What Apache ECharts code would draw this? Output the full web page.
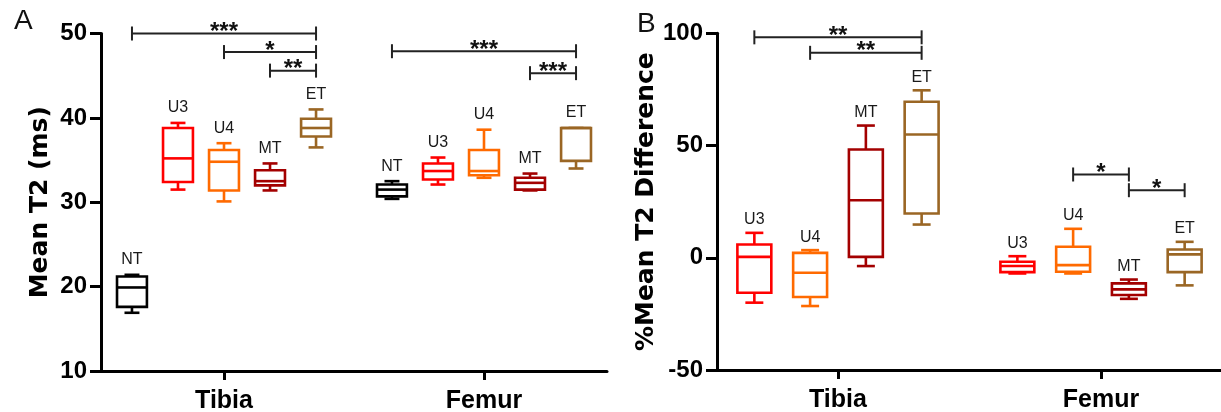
<!DOCTYPE html>
<html><head><meta charset="utf-8">
<script src="https://cdn.jsdelivr.net/npm/echarts@6/dist/echarts.min.js"></script>
<style>html,body{margin:0;padding:0;background:#fff}#chart{width:1221px;height:412px}</style>
</head><body><div id="chart"></div>
<script>
// ---------------- data ----------------
const sites = ['Tibia', 'Femur'];
const groupsA = ['NT', 'U3', 'U4', 'MT', 'ET'];
const groupsB = ['U3', 'U4', 'MT', 'ET'];
// Panel A, Mean T2 (ms): five-number summaries [min, Q1, median, Q3, max] for [Tibia, Femur]
const t2NT = [[16.9, 17.6, 19.9, 21.2, 21.4], [30.4, 30.7, 31.5, 32.1, 32.5]];
const t2U3 = [[31.5, 32.4, 35.2, 38.8, 39.4], [32.1, 32.7, 33.7, 34.6, 35.3]];
const t2U4 = [[30.1, 31.4, 34.8, 36.2, 37.0], [32.9, 33.2, 33.7, 36.2, 38.6]];
const t2MT = [[31.4, 32.0, 32.5, 33.8, 34.6], [31.4, 31.5, 32.3, 32.9, 33.4]];
const t2ET = [[36.5, 37.8, 38.8, 39.9, 41.0], [34.0, 34.9, 38.8, 38.8, 38.8]];
// Panel B, %Mean T2 Difference
const diffU3 = [[-20.0, -15.6, 0.4, 5.9, 11.1], [-7.0, -6.4, -3.7, -1.8, 0.7]];
const diffU4 = [[-21.5, -17.5, -6.7, 2.2, 3.4], [-7.0, -6.2, -3.3, 4.9, 12.9]];
const diffMT = [[-3.7, 0.4, 25.6, 48.2, 58.9], [-18.3, -16.6, -14.1, -11.4, -9.7]];
const diffET = [[14.8, 19.7, 54.9, 69.5, 74.6], [-12.3, -6.4, 1.5, 3.7, 7.1]];
// axis ticks
const ticksA = [10, 20, 30, 40, 50];
const ticksB = [-50, 0, 50, 100];
// significance brackets: [site, fromGroup, toGroup, y, stars]
const sigA = [[0, 'NT', 'ET', 50.0, '***'], [0, 'U4', 'ET', 47.8, '*'], [0, 'MT', 'ET', 45.6, '**'],
              [1, 'NT', 'ET', 47.9, '***'], [1, 'MT', 'ET', 45.3, '***']];
const sigB = [[0, 'U3', 'ET', 98.2, '**'], [0, 'U4', 'ET', 91.3, '**'],
              [1, 'U4', 'MT', 37.1, '*'], [1, 'MT', 'ET', 30.1, '*']];
const titleA = 'Mean T2 (ms)';
const titleB = '%Mean T2 Difference';

// ---------------- styles / layout ----------------
const colors = { NT: '#000000', U3: '#ff0000', U4: '#ff6a00', MT: '#a30000', ET: '#9a6624' };
const LA = { slot: 0.177, boxW: 0.115, cap: 0.5, gap: 15, min: -0.4731, max: 1.4731 };
const LB = { slot: 0.212, boxW: 0.129, cap: 0.53, gap: 13, min: -0.46, max: 1.46 };
const FONT = '"Liberation Sans", Arial, sans-serif';

function boxRender(groups, L, color, name) {
  const c = (groups.length - 1) / 2;
  return function (params, api) {
    const xv = api.value(0) + (api.value(1) - c) * L.slot;
    const lo = api.coord([xv, api.value(2)]);
    const q1 = api.coord([xv, api.value(3)]);
    const md = api.coord([xv, api.value(4)]);
    const q3 = api.coord([xv, api.value(5)]);
    const hi = api.coord([xv, api.value(6)]);
    const hw = api.size([L.boxW, 0])[0] / 2;
    const cw = hw * L.cap;
    const x = md[0];
    const st = { stroke: color, lineWidth: 2.6, fill: 'none' };
    const top = Math.min(hi[1], q3[1]);
    return {
      type: 'group',
      children: [
        { type: 'line', shape: { x1: x, y1: q3[1], x2: x, y2: hi[1] }, style: st },
        { type: 'line', shape: { x1: x - cw, y1: hi[1], x2: x + cw, y2: hi[1] }, style: st },
        { type: 'line', shape: { x1: x, y1: q1[1], x2: x, y2: lo[1] }, style: st },
        { type: 'line', shape: { x1: x - cw, y1: lo[1], x2: x + cw, y2: lo[1] }, style: st },
        { type: 'rect', shape: { x: x - hw, y: q3[1], width: 2 * hw, height: q1[1] - q3[1] },
          style: { stroke: color, lineWidth: 2.6, fill: '#ffffff' } },
        { type: 'line', shape: { x1: x - hw, y1: md[1], x2: x + hw, y2: md[1] }, style: st },
        { type: 'text', x: x, y: top - L.gap,
          style: { text: name, font: '16px ' + FONT, fill: '#1a1a1a', align: 'center', verticalAlign: 'middle' } }
      ]
    };
  };
}

function sigRender(groups, L, sig) {
  const c = (groups.length - 1) / 2;
  return function (params, api) {
    const s = sig[params.dataIndex];
    const a = api.coord([s[0] + (groups.indexOf(s[1]) - c) * L.slot, s[3]]);
    const b = api.coord([s[0] + (groups.indexOf(s[2]) - c) * L.slot, s[3]]);
    const st = { stroke: '#222', lineWidth: 2, fill: 'none' };
    return {
      type: 'group',
      children: [
        { type: 'line', shape: { x1: a[0], y1: a[1], x2: b[0], y2: b[1] }, style: st },
        { type: 'line', shape: { x1: a[0], y1: a[1] - 7, x2: a[0], y2: a[1] + 7 }, style: st },
        { type: 'line', shape: { x1: b[0], y1: b[1] - 7, x2: b[0], y2: b[1] + 7 }, style: st },
        { type: 'text', x: (a[0] + b[0]) / 2, y: a[1] - 1,
          style: { text: s[4], font: 'bold 24px ' + FONT, fill: '#111', align: 'center', verticalAlign: 'middle' } }
      ]
    };
  };
}

function xAxisCfg(gi, L) {
  return {
    type: 'value', gridIndex: gi, min: L.min, max: L.max,
    splitLine: { show: false },
    axisLine: { show: true, onZero: false, lineStyle: { color: '#000', width: 3 } },
    axisTick: { show: true, length: 9, customValues: [0, 1], lineStyle: { color: '#000', width: 3 } },
    axisLabel: { customValues: [0, 1], formatter: v => sites[Math.round(v)] || '',
      fontFamily: FONT, fontWeight: 'bold', fontSize: 25, color: '#000', margin: 18 }
  };
}
function yAxisCfg(gi, ticks, name, gap) {
  return {
    type: 'value', gridIndex: gi, min: ticks[0], max: ticks[ticks.length - 1], interval: ticks[1] - ticks[0],
    name: name, nameLocation: 'middle', nameGap: gap, nameRotate: 90,
    nameTextStyle: { fontFamily: 'DejaVu Sans', fontWeight: 'bold', fontSize: 25, color: '#000' },
    splitLine: { show: false },
    axisLine: { show: true, onZero: false, lineStyle: { color: '#000', width: 3 } },
    axisTick: { show: true, length: 11, lineStyle: { color: '#000', width: 3 } },
    axisLabel: { fontFamily: FONT, fontWeight: 'bold', fontSize: 24, color: '#000', margin: 14 }
  };
}

const dataA = { NT: t2NT, U3: t2U3, U4: t2U4, MT: t2MT, ET: t2ET };
const dataB = { U3: diffU3, U4: diffU4, MT: diffMT, ET: diffET };

const series = [];
groupsA.forEach((g, gi) => {
  series.push({
    type: 'custom', xAxisIndex: 0, yAxisIndex: 0, clip: false,
    renderItem: boxRender(groupsA, LA, colors[g], g),
    encode: { x: 0, y: 4 },
    data: dataA[g].map((v, si) => [si, gi].concat(v))
  });
});
groupsB.forEach((g, gi) => {
  series.push({
    type: 'custom', xAxisIndex: 1, yAxisIndex: 1, clip: false,
    renderItem: boxRender(groupsB, LB, colors[g], g),
    encode: { x: 0, y: 4 },
    data: dataB[g].map((v, si) => [si, gi].concat(v))
  });
});
series.push({ type: 'custom', xAxisIndex: 0, yAxisIndex: 0, clip: false, z: 5,
  renderItem: sigRender(groupsA, LA, sigA), encode: { x: 0, y: 3 }, data: sigA.map(s => [s[0], 0, 0, s[3]]) });
series.push({ type: 'custom', xAxisIndex: 1, yAxisIndex: 1, clip: false, z: 5,
  renderItem: sigRender(groupsB, LB, sigB), encode: { x: 0, y: 3 }, data: sigB.map(s => [s[0], 0, 0, s[3]]) });

const chart = echarts.init(document.getElementById('chart'), null, { renderer: 'canvas' });
chart.setOption({
  animation: false,
  backgroundColor: '#ffffff',
  grid: [
    { left: 101, top: 33.5, width: 506, height: 337.5, outerBoundsMode: 'none' },
    { left: 717, top: 33.3, width: 505, height: 336.7, outerBoundsMode: 'none' }
  ],
  xAxis: [xAxisCfg(0, LA), xAxisCfg(1, LB)],
  yAxis: [yAxisCfg(0, ticksA, titleA, 48), yAxisCfg(1, ticksB, titleB, 48)],
  graphic: [
    { type: 'text', left: 14, top: 7, style: { text: 'A', font: '28px ' + FONT, fill: '#111' } },
    { type: 'text', left: 637, top: 10, style: { text: 'B', font: '28px ' + FONT, fill: '#111' } }
  ],
  series: series
});
</script></body></html>
